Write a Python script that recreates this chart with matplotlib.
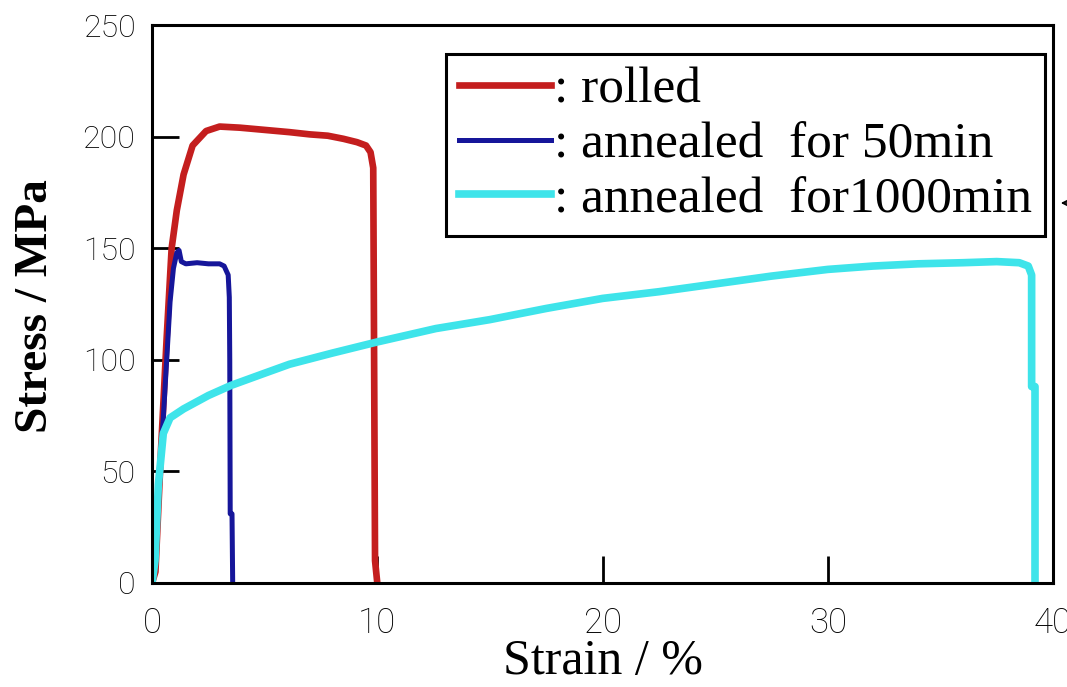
import matplotlib
matplotlib.use('Agg')
import matplotlib.pyplot as plt

# tensile curves, strain in %, stress in MPa
rolled_strain = [0, 0.15, 0.4, 0.65, 0.87, 1.1, 1.4, 1.8, 2.4, 3.0, 3.9, 5.0, 6.1, 7.0,
                 7.8, 8.5, 9.1, 9.5, 9.7, 9.82, 9.85, 9.9, 10.0]
rolled_stress = [0, 5, 60, 110, 150, 167, 183, 196, 202.5, 204.5, 204, 203, 202, 201,
                 200.4, 199, 197.5, 196, 193, 186, 120, 10, 0]

ann50_strain = [0, 0.1, 0.3, 0.5, 0.65, 0.8, 0.95, 1.1, 1.2, 1.3, 1.5, 2.0, 2.5, 3.0,
                3.2, 3.38, 3.43, 3.45, 3.47, 3.55, 3.58]
ann50_stress = [0, 15, 45, 74, 100, 126, 141, 148, 149, 144, 143, 143.5, 143, 143,
                142, 138, 128, 100, 31, 31, 0]

ann1000_strain = [0, 0.13, 0.28, 0.5, 0.8, 1.4, 2.5, 3.5, 5.0, 6.1, 8.0, 10.0, 12.6, 15.0,
                  17.5, 20.0, 22.5, 25.0, 27.5, 30.0, 32.0, 34.0, 36.0, 37.5, 38.5, 38.9,
                  39.05, 39.05, 39.2, 39.2]
ann1000_stress = [0, 10, 44, 67, 74, 78, 84, 88.5, 94, 98, 103, 108, 114, 118,
                  123, 127.5, 130.5, 134, 137.5, 140.5, 142, 143, 143.5, 144, 143.5, 142,
                  138, 88, 88, 0]

labels = [': rolled', ': annealed  for 50min', ': annealed  for1000min']
xticks = [0, 10, 20, 30, 40]
yticks = [0, 50, 100, 150, 200, 250]

fig = plt.figure(figsize=(10.67, 6.87), dpi=100)
ax = fig.add_axes([0.1425, 0.1514, 0.8444, 0.8122])

ax.plot(rolled_strain, rolled_stress, color='#c41e1e', lw=4.8, label=labels[0])
ax.plot(ann50_strain, ann50_stress, color='#16169a', lw=3.6, label=labels[1])
ax.plot(ann1000_strain, ann1000_stress, color='#3ee4ea', lw=5.5, label=labels[2])

ax.set_xlim(0, 40)
ax.set_ylim(0, 250)
ax.set_xticks(xticks)
ax.set_yticks(yticks)
ax.tick_params(direction='in', length=19.5, width=2, top=False, right=False)
ax.tick_params(axis='y', pad=12)
ax.tick_params(axis='x', pad=17)
for lab in ax.get_yticklabels():
    lab.set_family('Roboto')
    lab.set_weight('light')
    lab.set_fontsize(23)
for lab in ax.get_xticklabels():
    lab.set_family('Roboto')
    lab.set_weight('light')
    lab.set_fontsize(25)
for sp in ax.spines.values():
    sp.set_linewidth(2.2)

ax.set_xlabel('Strain / %', family='Liberation Serif', fontsize=36)
ax.set_ylabel('Stress / MPa', family='Liberation Serif', fontsize=34, weight='bold')
ax.xaxis.set_label_coords(0.5, -0.10)
ax.yaxis.set_label_coords(-0.106, 0.497)

leg = ax.legend(loc='upper right', bbox_to_anchor=(0.991, 0.948),
                prop={'family': 'Liberation Serif', 'size': 37},
                handlelength=1.8, handletextpad=0.05, labelspacing=0.15,
                borderpad=0.25, borderaxespad=0, fancybox=False, framealpha=1,
                edgecolor='black')
leg.get_frame().set_linewidth(2.2)

# small arrow pointing at the last legend entry
ax.annotate('', xy=(1058, 484), xytext=(1100, 484),
            xycoords='figure pixels', textcoords='figure pixels',
            arrowprops=dict(arrowstyle='->', color='black', lw=1.2),
            annotation_clip=False)

fig.savefig('out.png', dpi=100)
